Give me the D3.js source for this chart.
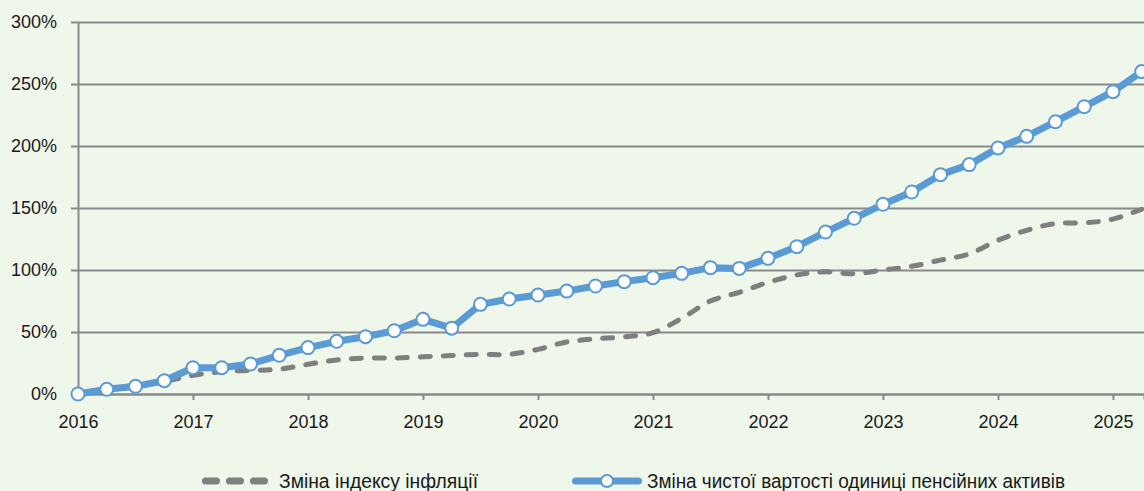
<!DOCTYPE html>
<meta charset="utf-8">
<html>
<head>
<script src="https://d3js.org/d3.v7.min.js"></script>
<style>
  body { margin: 0; background: #eff6ea; }
  text { font-family: "Liberation Sans", Arial, sans-serif; fill: #1a1a1a; }
</style>
</head>
<body>
<div id="viz"></div>
<script>
// quarterly periods (decimal years)
const periods = [2016, 2016.25, 2016.5, 2016.75,
  2017, 2017.25, 2017.5, 2017.75,
  2018, 2018.25, 2018.5, 2018.75,
  2019, 2019.25, 2019.5, 2019.75,
  2020, 2020.25, 2020.5, 2020.75,
  2021, 2021.25, 2021.5, 2021.75,
  2022, 2022.25, 2022.5, 2022.75,
  2023, 2023.25, 2023.5, 2023.75,
  2024, 2024.25, 2024.5, 2024.75,
  2025, 2025.25];

// % change of inflation index
const inflation = [0, 3, 6, 10,
  15, 18, 19, 20,
  24, 27.5, 29, 29,
  30, 31, 32, 32,
  36, 42, 44.5, 46,
  49.5, 61, 75, 82,
  90, 96, 98.5, 97,
  100, 103, 108, 113,
  124, 132, 137.5, 138,
  141, 149];

// % change of pension unit net value
const unitValue = [0, 3.8, 6.2, 10.7,
  21.2, 21.2, 24.2, 31.2,
  37.4, 42.5, 46.2, 51,
  60.2, 53.1, 72.3, 76.6,
  79.8, 83, 87.1, 90.6,
  93.8, 97.3, 101.9, 101.3,
  109.4, 118.8, 130.6, 141.7,
  153, 162.9, 176.9, 185,
  198.4, 207.8, 219.6, 231.7,
  243.8, 260];

const yearTicks = [2016, 2017, 2018, 2019, 2020, 2021, 2022, 2023, 2024, 2025];
const pctTicks = [0, 50, 100, 150, 200, 250, 300];
const seriesNames = ["Зміна індексу інфляції", "Зміна чистої вартості одиниці пенсійних активів"];

const W = 1144, H = 491;
const plotLeft = 78, plotRight = 1144, plotTop = 22, plotBottom = 394;
const gridColor = "#898989", blue = "#5b9bd5", grey = "#7f7f7f";

const svg = d3.select("#viz").append("svg")
  .attr("width", W).attr("height", H)
  .style("display", "block")
  .style("background", "#eff6ea");

const x = d3.scaleLinear().domain([2016, 2025.27]).range([plotLeft, plotRight]);
const y = d3.scaleLinear().domain([0, 300]).range([plotBottom, plotTop]);

// y axis + gridlines
const yAxis = svg.append("g")
  .attr("transform", `translate(${plotLeft},0)`)
  .call(d3.axisLeft(y).tickValues(pctTicks).tickSizeInner(-(plotRight - plotLeft)).tickSizeOuter(0)
    .tickPadding(21).tickFormat(d => d + "%"));
yAxis.select(".domain").attr("stroke", gridColor).attr("stroke-width", 2);
yAxis.selectAll(".tick line").attr("x1", -7).attr("stroke", gridColor).attr("stroke-width", 2);
yAxis.selectAll(".tick text").attr("font-size", 18).style("font-family", "Liberation Sans, Arial, sans-serif");

// x axis
const xAxis = svg.append("g")
  .attr("transform", `translate(0,${plotBottom})`)
  .call(d3.axisBottom(x).tickValues(yearTicks).tickSize(6).tickPadding(15).tickFormat(d3.format("d")));
xAxis.select(".domain").attr("stroke", gridColor).attr("stroke-width", 2);
xAxis.selectAll(".tick line").attr("stroke", gridColor).attr("stroke-width", 2);
xAxis.selectAll(".tick text").attr("font-size", 18).style("font-family", "Liberation Sans, Arial, sans-serif");
d3.selectAll(".tick text").attr("fill", "#1a1a1a");

// inflation dashed smooth line
const infLine = d3.line()
  .x((d, i) => x(periods[i]))
  .y(d => y(d))
  .curve(d3.curveCatmullRom.alpha(0.5));
svg.append("path")
  .datum(inflation)
  .attr("d", infLine)
  .attr("fill", "none")
  .attr("stroke", grey)
  .attr("stroke-width", 5)
  .attr("stroke-linecap", "round")
  .attr("stroke-dasharray", "10,13");

// unit value line with markers
const valLine = d3.line()
  .x((d, i) => x(periods[i]))
  .y(d => y(d));
svg.append("path")
  .datum(unitValue)
  .attr("d", valLine)
  .attr("fill", "none")
  .attr("stroke", blue)
  .attr("stroke-width", 7)
  .attr("stroke-linejoin", "round");
svg.selectAll(".marker")
  .data(unitValue)
  .join("circle")
  .attr("class", "marker")
  .attr("cx", (d, i) => x(periods[i]))
  .attr("cy", d => y(d))
  .attr("r", 6.5)
  .attr("fill", "#fff")
  .attr("stroke", blue)
  .attr("stroke-width", 2);

// legend
const ly = 481;
const legend = svg.append("g");
legend.append("line")
  .attr("x1", 205.5).attr("x2", 264.5).attr("y1", ly).attr("y2", ly)
  .attr("stroke", grey).attr("stroke-width", 7)
  .attr("stroke-linecap", "round").attr("stroke-dasharray", "11,13");
legend.append("text")
  .attr("x", 279).attr("y", ly + 7)
  .attr("font-size", 20)
  .attr("textLength", 199).attr("lengthAdjust", "spacingAndGlyphs")
  .text(seriesNames[0]);
legend.append("line")
  .attr("x1", 575.5).attr("x2", 638.5).attr("y1", ly).attr("y2", ly)
  .attr("stroke", blue).attr("stroke-width", 7).attr("stroke-linecap", "round");
legend.append("circle")
  .attr("cx", 607).attr("cy", ly).attr("r", 6)
  .attr("fill", "#fff").attr("stroke", blue).attr("stroke-width", 2);
legend.append("text")
  .attr("x", 647).attr("y", ly + 7)
  .attr("font-size", 20)
  .attr("textLength", 418).attr("lengthAdjust", "spacingAndGlyphs")
  .text(seriesNames[1]);
</script>
</body>
</html>
